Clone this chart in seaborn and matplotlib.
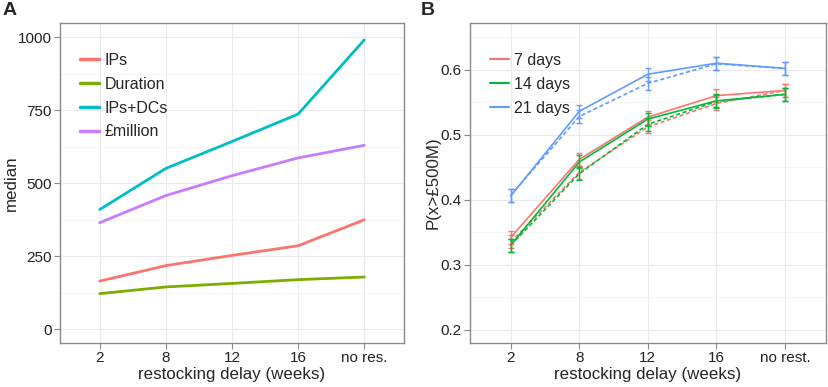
import numpy as np
import pandas as pd
import matplotlib
matplotlib.use("Agg")
import matplotlib.pyplot as plt
import seaborn as sns
from matplotlib.ticker import MultipleLocator

# Panel A data
delays_a = ["2", "8", "12", "16", "no res."]
ips = [165, 218, 253, 286, 375]
duration = [122, 145, 157, 170, 179]
ips_dcs = [410, 551, 643, 737, 991]
million = [365, 458, 526, 587, 630]
series_a = ["IPs", "Duration", "IPs+DCs", "£million"]
colors_a = ["#F8766D", "#7CAE00", "#00BFC4", "#C77CFF"]

# Panel B data (solid and dashed scenarios)
delays_b = ["2", "8", "12", "16", "no rest."]
groups_b = ["7 days", "14 days", "21 days"]
colors_b = ["#F8766D", "#00BA38", "#619CFF"]
solid_7 = [0.342, 0.462, 0.527, 0.560, 0.568]
solid_14 = [0.330, 0.458, 0.524, 0.552, 0.562]
solid_21 = [0.406, 0.536, 0.593, 0.610, 0.602]
dashed_7 = [0.335, 0.442, 0.512, 0.548, 0.568]
dashed_14 = [0.330, 0.440, 0.516, 0.551, 0.562]
dashed_21 = [0.407, 0.528, 0.579, 0.609, 0.602]
err_b = 0.01

sns.set_theme(style="white")
plt.rcParams["font.family"] = ["Liberation Sans", "DejaVu Sans"]

fig = plt.figure(figsize=(8.29, 3.87), dpi=100)
ax1 = fig.add_axes([0.0724, 0.1137, 0.4149, 0.8269])
ax2 = fig.add_axes([0.5666, 0.1137, 0.4298, 0.8269])


def style_axes(ax):
    ax.set_facecolor("white")
    for sp in ax.spines.values():
        sp.set_color("#8a8a8a")
        sp.set_linewidth(1.0)
    ax.grid(True, which="major", color="#EBEBEB", lw=0.8)
    ax.grid(True, which="minor", axis="y", color="#F5F5F5", lw=0.6)
    ax.set_axisbelow(True)
    ax.tick_params(axis="both", which="major", direction="out", length=4,
                   width=0.8, color="#8a8a8a", labelsize=11,
                   labelcolor="#222222", pad=2, bottom=True, left=True)
    ax.tick_params(axis="both", which="minor", length=0)


def add_legend(ax, handles, labels, x_anchor):
    leg = ax.legend(handles, labels, loc="upper left",
                    bbox_to_anchor=(x_anchor, 0.926), borderaxespad=0,
                    frameon=False, fontsize=11.5, handlelength=1.2,
                    labelspacing=0.55, handletextpad=0.35)
    return leg


# ---- Panel A
df_a = pd.DataFrame({
    "delay": delays_a * 4,
    "median": ips + duration + ips_dcs + million,
    "series": sum([[s] * 5 for s in series_a], []),
})
sns.lineplot(data=df_a, x="delay", y="median", hue="series",
             hue_order=series_a, palette=colors_a, lw=2.0, ax=ax1,
             sort=False, legend=False)
style_axes(ax1)
ax1.set_xlim(-0.6, 4.6)
ax1.set_ylim(-47, 1049)
ax1.set_yticks([0, 250, 500, 750, 1000])
ax1.yaxis.set_minor_locator(MultipleLocator(125))
ax1.set_xlabel("restocking delay (weeks)", fontsize=12.2, labelpad=1)
ax1.set_ylabel("median", fontsize=12.2)
ax1.yaxis.set_label_coords(-0.12, 0.5)
handles_a = [plt.Line2D([], [], color=c, lw=2.5) for c in colors_a]
add_legend(ax1, handles_a, series_a, 0.04)

# ---- Panel B
solid = [solid_7, solid_14, solid_21]
dashed = [dashed_7, dashed_14, dashed_21]
df_b = pd.DataFrame({
    "delay": delays_b * 6,
    "p": sum(solid, []) + sum(dashed, []),
    "group": sum([[g] * 5 for g in groups_b], []) * 2,
    "scenario": ["solid"] * 15 + ["dashed"] * 15,
})
sns.lineplot(data=df_b, x="delay", y="p", hue="group", hue_order=groups_b,
             palette=colors_b, style="scenario",
             style_order=["solid", "dashed"],
             dashes={"solid": "", "dashed": (2.5, 1.5)},
             lw=1.2, ax=ax2, sort=False, legend=False)
for vals_s, vals_d, c in zip(solid, dashed, colors_b):
    for vals in (vals_s, vals_d):
        ax2.errorbar(delays_b, vals, yerr=err_b, fmt="none", ecolor=c,
                     elinewidth=1.0, capsize=2, capthick=1.0)
style_axes(ax2)
ax2.set_xlim(-0.6, 4.6)
ax2.set_ylim(0.1795, 0.6718)
ax2.set_yticks([0.2, 0.3, 0.4, 0.5, 0.6])
ax2.set_yticklabels(["0.2", "0.3", "0.4", "0.5", "0.6"])
ax2.yaxis.set_minor_locator(MultipleLocator(0.05))
ax2.set_xlabel("restocking delay (weeks)", fontsize=12.2, labelpad=1)
ax2.set_ylabel("P(x>£500M)", fontsize=12.2)
ax2.yaxis.set_label_coords(-0.083, 0.5)
handles_b = [plt.Line2D([], [], color=c, lw=1.5) for c in colors_b]
add_legend(ax2, handles_b, groups_b, 0.038)

fig.text(0.003, 0.995, "A", fontsize=14, fontweight="bold", va="top")
fig.text(0.508, 0.995, "B", fontsize=14, fontweight="bold", va="top")

fig.savefig("out.png", dpi=100)
